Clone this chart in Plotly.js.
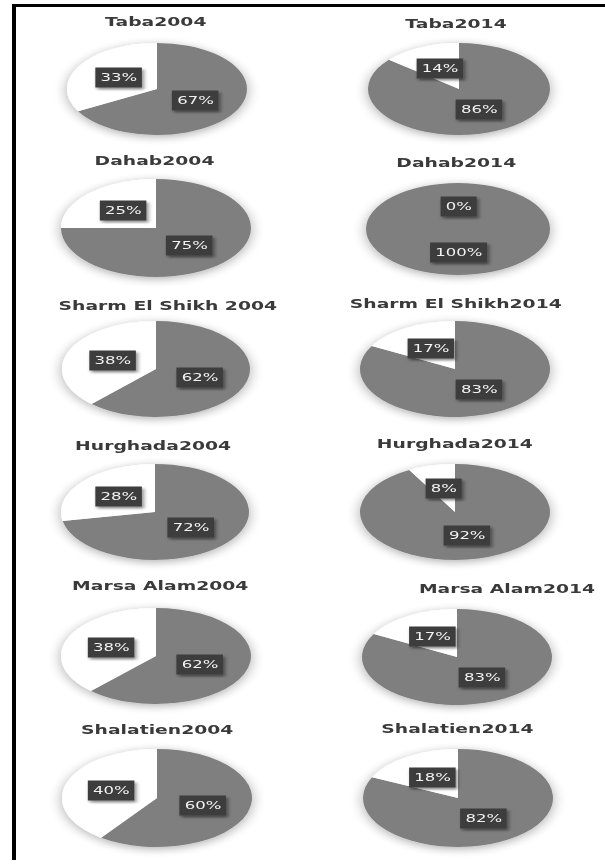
<!DOCTYPE html>
<html><head><meta charset="utf-8">
<script src="https://cdn.plot.ly/plotly-3.0.1.min.js"></script>
<style>
html,body{margin:0;padding:0;background:#fff;overflow:hidden;width:605px;height:865px}
#chart{width:403px;height:865px;transform:scaleX(1.5012407);transform-origin:0 0}
</style></head><body><div id="chart"></div>
<script>
// ---- data ----
const titles = ['Taba2004','Taba2014','Dahab2004','Dahab2014','Sharm El Shikh 2004','Sharm El Shikh2014',
                'Hurghada2004','Hurghada2014','Marsa Alam2004','Marsa Alam2014','Shalatien2004','Shalatien2014'];
const sliceNames = ['Share 1','Share 2'];
const grayShare  = [67, 86, 75, 100, 62, 83, 72, 92, 62, 83, 60, 82];
const whiteShare = [33, 14, 25, 0, 38, 17, 28, 8, 38, 17, 40, 18];

// ---- layout (pixel positions in final 605x865 picture) ----
const W = 605, H = 865, W0 = 403, S = W / W0;
const cellCx = [157, 459, 156, 458, 156, 455, 155, 455, 156, 457, 157, 458];
const cellCy = [89, 89, 228, 229, 369, 369, 512, 512, 656, 657, 798, 798];
const cellRx = [90, 91, 95, 92, 94, 95, 94, 95, 95, 95, 95, 95];
const cellRy = [46, 46, 49, 46, 48, 48, 48, 48, 48, 48, 49, 49];
const titleX = [156, 457, 155, 457, 168, 457, 153, 455, 160, 508, 158, 458];
const titleY = [22, 23, 160, 162, 305, 303, 445, 444, 585, 588, 729, 728];
const colors = ['#7f7f7f', '#ffffff'];

const traces = [], annotations = [];
titles.forEach((t, i) => {
  const vals = [grayShare[i], whiteShare[i]];
  traces.push({
    type: 'pie', values: vals, labels: sliceNames, sort: false, direction: 'clockwise', rotation: 0,
    marker: {colors: colors, line: {width: 0}}, textinfo: 'none', hoverinfo: 'skip', showlegend: false,
    domain: {x: [cellCx[i] / W - 0.2, cellCx[i] / W + 0.2],
             y: [1 - (cellCy[i] + cellRy[i]) / H, 1 - (cellCy[i] - cellRy[i]) / H]}
  });
  annotations.push({
    text: '<b>' + t + '</b>', xref: 'paper', yref: 'paper', x: titleX[i] / W, y: 1 - titleY[i] / H,
    xanchor: 'center', yanchor: 'middle', showarrow: false,
    font: {family: 'DejaVu Sans', size: 12.5, color: '#3a3a3a'}
  });
});
titles.forEach((t, i) => {
  const vals = [grayShare[i], whiteShare[i]];
  const total = vals.reduce((a, b) => a + b, 0);
  let cum = 0;
  vals.forEach(v => {
    const mid = (cum + v / 2) / total * 2 * Math.PI;
    cum += v;
    const lx = cellCx[i] + 0.5 * cellRx[i] * Math.sin(mid);
    const ly = cellCy[i] - 0.5 * cellRy[i] * Math.cos(mid);
    annotations.push({
      text: v + '%', xref: 'paper', yref: 'paper', x: lx / W, y: 1 - ly / H,
      xanchor: 'center', yanchor: 'middle', showarrow: false,
      bgcolor: '#3c3c3c', borderpad: 3,
      font: {family: 'DejaVu Sans', size: 11, color: '#f2f2f2'}
    });
  });
});

const shapes = [
  {type: 'line', xref: 'paper', yref: 'paper', x0: 14 / W, x1: 14 / W, y0: 1 - 4 / H, y1: 1 - 860 / H,
   line: {color: '#000', width: 4 / S}},
  {type: 'line', xref: 'paper', yref: 'paper', x0: 12 / W, x1: 1, y0: 1 - 5.5 / H, y1: 1 - 5.5 / H,
   line: {color: '#000', width: 3}}
];

const layout = {
  width: W0, height: H, margin: {l: 0, r: 0, t: 0, b: 0},
  paper_bgcolor: '#ffffff', plot_bgcolor: '#ffffff',
  showlegend: false, annotations: annotations, shapes: shapes
};

Plotly.newPlot('chart', traces, layout, {staticPlot: true, displayModeBar: false}).then(gd => {
  const svgs = gd.querySelectorAll('svg.main-svg');
  const ns = 'http://www.w3.org/2000/svg';
  const defs = document.createElementNS(ns, 'defs');
  defs.innerHTML =
    '<filter id="pieShadow" x="-30%" y="-40%" width="160%" height="180%">' +
      '<feGaussianBlur in="SourceAlpha" stdDeviation="4.5"/>' +
      '<feOffset dx="0" dy="1.5"/>' +
      '<feComponentTransfer><feFuncA type="linear" slope="0.32"/></feComponentTransfer>' +
      '<feMerge><feMergeNode/><feMergeNode in="SourceGraphic"/></feMerge></filter>' +
    '<filter id="lblShadow" x="-30%" y="-50%" width="170%" height="220%">' +
      '<feGaussianBlur in="SourceAlpha" stdDeviation="1.3"/>' +
      '<feOffset dx="1.5" dy="1.5"/>' +
      '<feComponentTransfer><feFuncA type="linear" slope="0.45"/></feComponentTransfer>' +
      '<feMerge><feMergeNode/><feMergeNode in="SourceGraphic"/></feMerge></filter>';
  svgs[0].insertBefore(defs, svgs[0].firstChild);

  const groups = gd.querySelectorAll('.pielayer > g.trace');
  groups.forEach((g, i) => {
    const cd0 = gd.calcdata[i][0];
    const s = cellRx[i] / (cd0.r * S);
    g.querySelectorAll('path.surface').forEach(p => {
      p.setAttribute('transform', 'translate(' + (cd0.cx * (1 - s)) + ',0) scale(' + s + ',1)');
    });
    g.setAttribute('filter', 'url(#pieShadow)');
  });
  gd.querySelectorAll('.annotation').forEach(a => {
    const idx = +a.getAttribute('data-index');
    if (idx >= titles.length) {
      const tg = a.querySelector('.annotation-text-g') || a;
      tg.setAttribute('filter', 'url(#lblShadow)');
    }
  });
});
</script></body></html>
